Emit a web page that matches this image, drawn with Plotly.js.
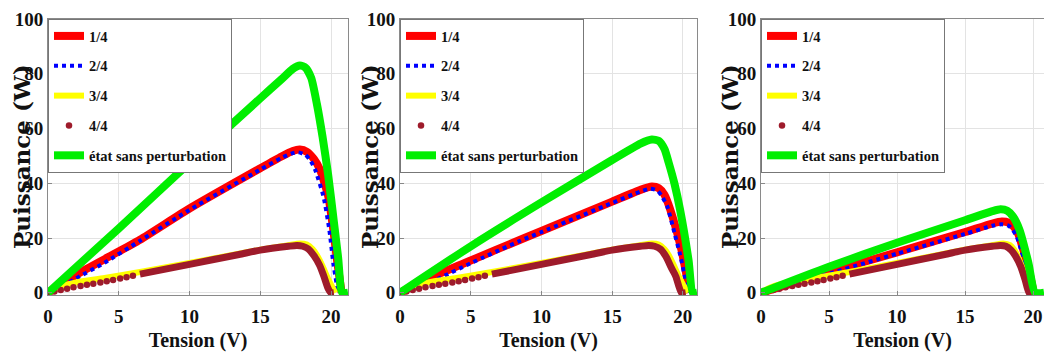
<!DOCTYPE html>
<html><head><meta charset="utf-8">
<script src="https://cdn.plot.ly/plotly-3.0.1.min.js"></script>
<style>body{margin:0;background:#fff}</style>
</head><body>
<div id="chart" style="width:1044px;height:358px"></div>
<script>
// ---------- data ----------
const seriesNames = ['1/4', '2/4', '3/4', '4/4', 'état sans perturbation'];
const xTicks = [0, 5, 10, 15, 20];
const yTicks = [0, 20, 40, 60, 80, 100];

// Panel 1
const p1_red_V = [0, 1, 2, 4, 6.5, 10, 15, 16.5, 17.3, 17.8, 18.3, 18.8, 19.22, 19.8, 20.16, 20.45, 20.75];
const p1_red_P = [0, 3.3, 6.6, 12.3, 19.4, 30.8, 45.5, 49.8, 51.8, 52.3, 51.5, 48.8, 45, 35.3, 23, 10.9, 0];
const p1_blue_V = [0, 1, 2, 4, 6.5, 10, 15, 16.5, 17.3, 17.7, 18.2, 18.55, 18.87, 19.46, 19.88, 20.16, 20.5];
const p1_blue_P = [0, 2.3, 5.3, 11, 19, 30.3, 45, 49.3, 51, 51.3, 50.3, 48.3, 45, 35.3, 23, 10.9, 0];
const p1_yellow_V = [0, 0.5, 1, 2, 4, 6.5, 10, 13.5, 15, 17, 17.8, 18.3, 18.7, 19, 19.4, 19.8, 20.3];
const p1_yellow_P = [0, 1.5, 2.5, 3.8, 5.4, 7.6, 10.9, 14.3, 15.7, 17.4, 18, 17.6, 16, 13.8, 9.8, 5, 0];
const p1_dots_V = [0, 0.45, 0.9, 1.35, 1.8, 2.3, 2.75, 3.2, 3.7, 4.15, 4.6, 5.1, 5.55, 6.0];
const p1_dots_P = [0, 0.5, 1.0, 1.5, 2.0, 2.5, 2.9, 3.3, 3.8, 4.2, 4.7, 5.2, 5.7, 6.2];
const p1_dark_V = [6.5, 10, 13.5, 15, 17, 17.6, 18.0, 18.4, 18.8, 19.2, 19.5, 19.8, 20.0, 20.2];
const p1_dark_P = [6.8, 10.4, 14, 15.6, 17, 17.3, 17, 16, 13.5, 10, 6, 1.5, 0, 0];
const p1_green_V = [0, 5, 10, 15, 16.5, 17.3, 17.8, 18.2, 18.6, 19, 19.4, 19.8, 20.2, 20.5, 20.8, 21.2];
const p1_green_P = [0, 23.5, 47.5, 71, 78, 81.8, 83, 82.2, 78.5, 69, 57, 43, 26, 13, 0, 0];

// Panel 2
const p2_red_V = [0, 1, 2.8, 5, 8.5, 10, 15, 17, 17.8, 18.3, 18.7, 19.1, 19.9, 20.2, 20.5];
const p2_red_P = [0, 2.6, 7, 11.8, 19.4, 22.6, 33.3, 37.6, 38.8, 38.2, 35.8, 30.5, 15.7, 8, 0];
const p2_blue_V = [0, 1, 2.8, 5, 8.5, 10, 15, 17, 17.7, 18.2, 18.55, 18.9, 19.4, 19.8, 20.1, 20.4];
const p2_blue_P = [0, 1.6, 5.4, 10.8, 19, 22.2, 32.8, 37, 38, 37.3, 35, 31.5, 22, 14, 7, 0];
const p2_yellow_V = [0, 0.5, 1, 2, 4, 6.5, 10, 13.5, 15, 17, 17.8, 18.3, 18.7, 19, 19.4, 19.8, 20.35];
const p2_yellow_P = [0, 1.5, 2.5, 3.8, 5.4, 7.6, 10.9, 14.3, 15.7, 17.4, 18, 17.6, 16, 13.8, 9.6, 5, 0];
const p2_dots_V = [0, 0.45, 0.9, 1.35, 1.8, 2.3, 2.75, 3.2, 3.7, 4.15, 4.6, 5.1, 5.55, 6.0];
const p2_dots_P = [0, 0.5, 1.0, 1.5, 2.0, 2.5, 2.9, 3.3, 3.8, 4.2, 4.7, 5.2, 5.7, 6.2];
const p2_dark_V = [6.5, 10, 13.5, 15, 17, 17.6, 18.0, 18.4, 18.8, 19.2, 19.5, 19.9, 20.2];
const p2_dark_P = [6.8, 10.4, 14, 15.6, 17, 17.3, 17, 16, 13.3, 9, 6, 0, 0];
const p2_green_V = [0, 5, 10, 15, 17, 17.8, 18.3, 18.7, 19.0, 19.4, 19.8, 20.4, 20.7, 21.0];
const p2_green_P = [0, 17, 33, 48.5, 54.5, 56, 55.5, 52.5, 47.5, 40, 30.4, 12, 0, 0];

// Panel 3
const p3_red_V = [0, 5, 10, 15, 17, 17.7, 18.2, 18.6, 18.9, 19.2, 19.7, 20.05];
const p3_red_P = [0, 7.5, 14.8, 22.2, 25.3, 26, 25.6, 24, 21.5, 17, 8, 0];
const p3_blue_V = [0, 5, 10, 15, 17, 17.7, 18.2, 18.5, 18.8, 19.1, 19.6, 19.95];
const p3_blue_P = [0, 7, 14.3, 21.5, 24.5, 25, 24.5, 23, 20.5, 16, 7, 0];
const p3_yellow_V = [0, 0.5, 1, 2, 4, 6.5, 10, 13.5, 15, 17, 17.8, 18.3, 18.6, 18.9, 19.3, 19.8];
const p3_yellow_P = [0, 1.5, 2.5, 3.8, 5.4, 7.6, 10.9, 14.3, 15.7, 17.4, 18, 17.4, 15.8, 13, 8, 0];
const p3_dots_V = [0, 0.45, 0.9, 1.35, 1.8, 2.3, 2.75, 3.2, 3.7, 4.15, 4.6, 5.1, 5.55, 6.0];
const p3_dots_P = [0, 0.5, 1.0, 1.5, 2.0, 2.5, 2.9, 3.3, 3.8, 4.2, 4.7, 5.2, 5.7, 6.2];
const p3_dark_V = [6.5, 10, 13.5, 15, 17, 17.6, 18.0, 18.4, 18.7, 19.1, 19.4, 19.7, 19.9];
const p3_dark_P = [6.8, 10.4, 14, 15.6, 17, 17.3, 17, 15.5, 13.5, 9.5, 5, 0, 0];
const p3_green_V = [0, 5, 10, 15, 17, 17.6, 18.1, 18.5, 19.0, 19.65, 20.15, 20.8];
const p3_green_P = [0, 9.5, 18.3, 26.5, 29.8, 30.5, 30, 28, 23, 11, 0, 0];

// ---------- build ----------
const COL = {red:'#ff0000', blue:'#0000ff', yellow:'#ffff00', dark:'#9e1b2b', green:'#00ee00'};
const SERIF = 'Liberation Serif, Times New Roman, Times, serif';

function panelTraces(k, d) {
  const s = k > 1 ? String(k) : '';
  const base = {xaxis:'x'+s, yaxis:'y'+s, legend:'legend'+s};
  return [
    Object.assign({type:'scatter', mode:'lines', name:seriesNames[0], legendgroup:'a'+k,
      x:d.redV, y:d.redP, line:{color:COL.red, width:8, shape:'spline', smoothing:0.6}}, base),
    Object.assign({type:'scatter', mode:'lines', name:seriesNames[1], legendgroup:'b'+k,
      x:d.blueV, y:d.blueP, line:{color:COL.blue, width:4, dash:'dot', shape:'spline', smoothing:0.6}}, base),
    Object.assign({type:'scatter', mode:'lines', name:seriesNames[2], legendgroup:'c'+k,
      x:d.yellowV, y:d.yellowP, line:{color:COL.yellow, width:6, shape:'spline', smoothing:0.6}}, base),
    Object.assign({type:'scatter', mode:'lines', name:seriesNames[3], legendgroup:'d'+k, showlegend:false,
      x:d.darkV, y:d.darkP, line:{color:COL.dark, width:7, shape:'spline', smoothing:0.6}}, base),
    Object.assign({type:'scatter', mode:'markers', name:seriesNames[3], legendgroup:'d'+k,
      x:d.dotsV, y:d.dotsP, marker:{color:COL.dark, size:6.5, symbol:'circle'}}, base),
    Object.assign({type:'scatter', mode:'lines', name:seriesNames[4], legendgroup:'e'+k,
      x:d.greenV, y:d.greenP, line:{color:COL.green, width:8, shape:'spline', smoothing:0.6}}, base)
  ];
}

const data = [].concat(
  panelTraces(1, {redV:p1_red_V, redP:p1_red_P, blueV:p1_blue_V, blueP:p1_blue_P, yellowV:p1_yellow_V, yellowP:p1_yellow_P,
    darkV:p1_dark_V, darkP:p1_dark_P, dotsV:p1_dots_V, dotsP:p1_dots_P, greenV:p1_green_V, greenP:p1_green_P}),
  panelTraces(2, {redV:p2_red_V, redP:p2_red_P, blueV:p2_blue_V, blueP:p2_blue_P, yellowV:p2_yellow_V, yellowP:p2_yellow_P,
    darkV:p2_dark_V, darkP:p2_dark_P, dotsV:p2_dots_V, dotsP:p2_dots_P, greenV:p2_green_V, greenP:p2_green_P}),
  panelTraces(3, {redV:p3_red_V, redP:p3_red_P, blueV:p3_blue_V, blueP:p3_blue_P, yellowV:p3_yellow_V, yellowP:p3_yellow_P,
    darkV:p3_dark_V, darkP:p3_dark_P, dotsV:p3_dots_V, dotsP:p3_dots_P, greenV:p3_green_V, greenP:p3_green_P})
);

const W = 1044, H = 358;
const tickFont = {family:SERIF, size:19, weight:'bold', color:'#111'};
function xAxis(left, right, maxV, anchor) {
  return {domain:[left/W, right/W], range:[0, maxV], anchor:anchor,
    tickvals:xTicks, ticktext:xTicks.map(String), tickfont:tickFont,
    ticks:'inside', ticklen:4, tickcolor:'#888', ticklabelstandoff:4,
    showgrid:true, gridcolor:'#e3e3e3', gridwidth:1, zeroline:false,
    showline:true, linecolor:'#8a8a8a', linewidth:1, mirror:true,
    title:{text:'Tension (V)', font:{family:SERIF, size:20, weight:'bold', color:'#111'}, standoff:7}};
}
function yAxis(anchor) {
  return {domain:[63/H, 339/H], range:[-0.8, 100], anchor:anchor,
    tickvals:yTicks, ticktext:yTicks.map(String), tickfont:tickFont,
    ticks:'inside', ticklen:4, tickcolor:'#888',
    showgrid:true, gridcolor:'#e3e3e3', gridwidth:1, zeroline:false,
    showline:true, linecolor:'#8a8a8a', linewidth:1, mirror:true};
}
function legendAt(left) {
  return {x:left/W, y:339/H, xanchor:'left', yanchor:'top', bgcolor:'#ffffff',
    bordercolor:'#777', borderwidth:1, itemwidth:30, tracegroupgap:8,
    font:{family:SERIF, size:14.5, weight:'bold', color:'#111'}};
}
const yTitleFont = {family:'DejaVu Serif, serif', size:23, weight:'bold', color:'#111'};
function yTitle(xc) {
  return {text:'Puissance (W)', xref:'paper', yref:'paper', x:xc/W, y:(H-157)/H,
    xanchor:'center', yanchor:'middle', textangle:-90, showarrow:false, font:yTitleFont};
}

const layout = {
  width:W, height:H, margin:{l:0, r:0, t:0, b:0},
  paper_bgcolor:'#ffffff', plot_bgcolor:'#ffffff', showlegend:true,
  xaxis: xAxis(48, 348, 21.2, 'y'),
  yaxis: yAxis('x'),
  xaxis2: xAxis(400, 697, 21.0, 'y2'),
  yaxis2: yAxis('x2'),
  xaxis3: xAxis(761, 1044, 20.8, 'y3'),
  yaxis3: yAxis('x3'),
  legend: legendAt(48),
  legend2: legendAt(400),
  legend3: legendAt(761),
  annotations: [yTitle(21), yTitle(369), yTitle(729)]
};

Plotly.newPlot('chart', data, layout, {displayModeBar:false, responsive:false});
</script>
</body></html>
